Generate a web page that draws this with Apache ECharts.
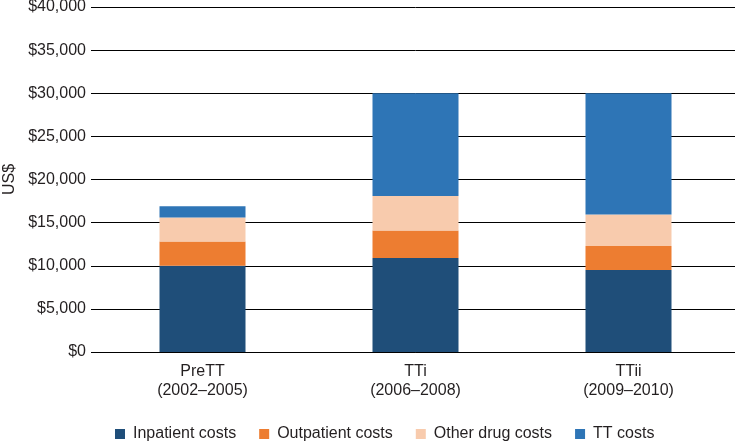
<!DOCTYPE html>
<html><head><meta charset="utf-8">
<script src="https://cdn.jsdelivr.net/npm/echarts@6/dist/echarts.min.js"></script>
<style>html,body{margin:0;padding:0;background:#fff}#c{width:735px;height:446px}</style>
</head><body><div id="c"></div>
<script>
const categories = ['PreTT\n(2002–2005)', 'TTi\n(2006–2008)', 'TTii\n(2009–2010)'];
const inpatient = [10000, 10900, 9500];
const outpatient = [2800, 3200, 2800];
const otherDrug = [2800, 4000, 3650];
const ttCosts = [1300, 11900, 14050];
const seriesNames = ['Inpatient costs', 'Outpatient costs', 'Other drug costs', 'TT costs'];
const colors = ['#1F4E79', '#ED7D31', '#F8CBAD', '#2E75B6'];

const font = 'Liberation Sans, Arial, sans-serif';
const chart = echarts.init(document.getElementById('c'));
const data = [inpatient, outpatient, otherDrug, ttCosts];
chart.setOption({
  animation: false,
  color: colors,
  textStyle: {fontFamily: font},
  grid: {left: 96, right: 0, top: 7, bottom: 94, containLabel: false, outerBoundsMode: 'none'},
  legend: {
    top: 426, left: 115, itemWidth: 10, itemHeight: 10, itemGap: 23,
    icon: 'rect', padding: 0,
    textStyle: {fontSize: 16, color: '#231f20', fontFamily: font, padding: [0, 0, 0, 3]},
    data: seriesNames
  },
  xAxis: {
    type: 'category', data: categories,
    axisLine: {show: true, lineStyle: {color: '#000', width: 1}},
    axisTick: {show: false},
    axisLabel: {fontSize: 16, color: '#231f20', lineHeight: 19, margin: 10, fontFamily: font}
  },
  yAxis: {
    type: 'value', min: 0, max: 40000, interval: 5000,
    name: 'US$', nameLocation: 'middle', nameGap: 75, nameRotate: 90,
    nameTextStyle: {fontSize: 16, color: '#231f20', fontFamily: font},
    axisLine: {show: false},
    axisTick: {show: true, length: 5, lineStyle: {color: '#000'}},
    axisLabel: {fontSize: 16, color: '#231f20', margin: 10, fontFamily: font,
      formatter: v => '$' + v.toLocaleString('en-US')},
    splitLine: {show: true, lineStyle: {color: '#000', width: 1}}
  },
  series: seriesNames.map((n, i) => ({
    name: n, type: 'bar', stack: 'total', data: data[i],
    barWidth: 86
  }))
});
</script></body></html>
